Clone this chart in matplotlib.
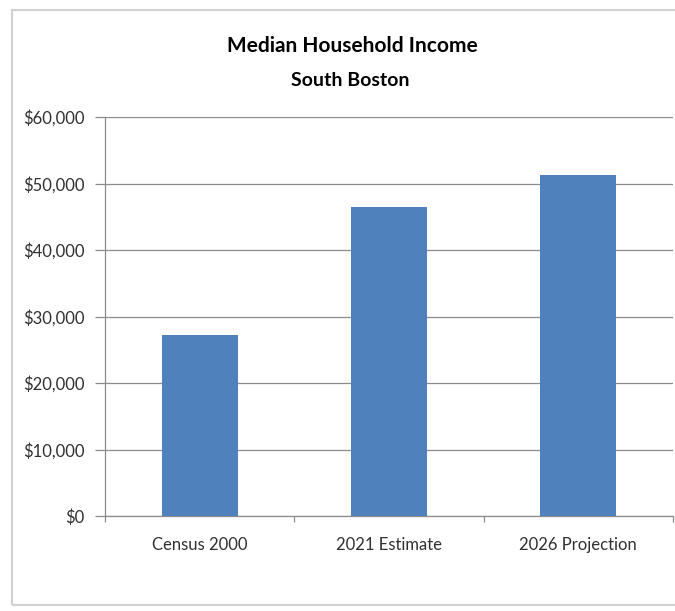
"""
Median household income bar chart for South Boston
"""
import matplotlib.pyplot as plt
from matplotlib.patches import Rectangle
from matplotlib.ticker import FuncFormatter, FixedLocator

categories = ['Census 2000', '2021 Estimate', '2026 Projection']
incomes = [27250, 46500, 51250]
y_ticks = [0, 10000, 20000, 30000, 40000, 50000, 60000]

title = 'Median Household Income'
subtitle = 'South Boston'

plt.rcParams['font.family'] = ['Lato', 'DejaVu Sans']

bar_color = '#4f81bd'
grid_color = '#8c8c8c'
text_color = '#303030'

fig = plt.figure(figsize=(6.75, 6.11), dpi=100)
fig.patch.set_facecolor('white')

# chart frame, open on the right side
fig.patches.append(Rectangle((12 / 675, 1 - 605 / 611), 1.1, 595 / 611,
                             transform=fig.transFigure, fill=False,
                             edgecolor='#d0d0d0', linewidth=1.5))

ax = fig.add_axes([105 / 675, 1 - 516 / 611, 568 / 675, 399 / 611])

x = range(len(categories))
ax.bar(x, incomes, width=0.4, color=bar_color, zorder=3)

ax.set_xlim(-0.5, len(categories) - 0.5)
ax.set_ylim(y_ticks[0], y_ticks[-1])
ax.set_yticks(y_ticks)
ax.yaxis.set_major_formatter(FuncFormatter(lambda v, _: f'${v:,.0f}'))
ax.grid(axis='y', color=grid_color, linewidth=0.9, zorder=0)

ax.set_xticks(list(x))
ax.set_xticklabels(categories)
ax.xaxis.set_minor_locator(FixedLocator([i - 0.5 for i in range(len(categories) + 1)]))
ax.tick_params(axis='x', which='major', length=0, pad=15, labelsize=12,
               labelcolor=text_color)
ax.tick_params(axis='x', which='minor', length=4, color=grid_color, width=0.9)
ax.tick_params(axis='y', length=7, color=grid_color, width=0.9, pad=8,
               labelsize=12, labelcolor=text_color)

for side in ['top', 'right']:
    ax.spines[side].set_visible(False)
for side in ['left', 'bottom']:
    ax.spines[side].set_color(grid_color)
    ax.spines[side].set_linewidth(0.9)

fig.text(352 / 675, 1 - 46 / 611, title, ha='center', va='center',
         fontsize=15, fontweight='bold', color='black')
fig.text(350 / 675, 1 - 80 / 611, subtitle, ha='center', va='center',
         fontsize=14, fontweight='bold', color='black')

fig.savefig('out.png', dpi=100)
